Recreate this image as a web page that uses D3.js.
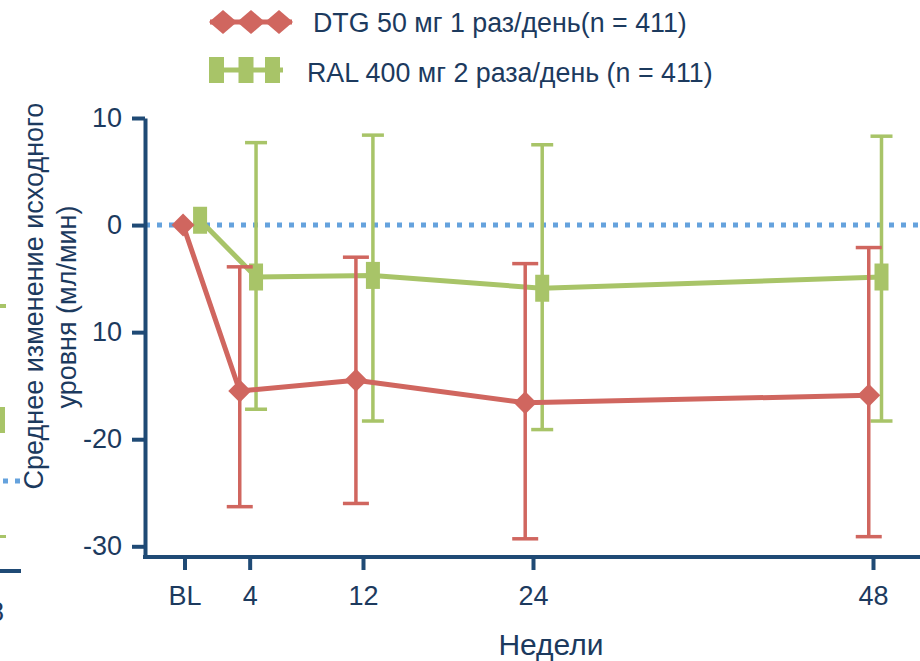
<!DOCTYPE html>
<html>
<head>
<meta charset="utf-8">
<script src="https://cdnjs.cloudflare.com/ajax/libs/d3/7.8.5/d3.min.js"></script>
<style>
  html, body { margin: 0; padding: 0; background: #fff; }
  svg { display: block; font-family: "Liberation Sans", Arial, sans-serif; }
</style>
</head>
<body>
<div id="chart"></div>
<script>
// weeks (BL sits a little left of 0), tick labels
const weekTicks = [-0.6, 4, 12, 24, 48];
const weekLabels = ["BL", "4", "12", "24", "48"];
const yTicks = [10, 0, -10, -20, -30];
const yTickLabels = ["10", "0", "10", "-20", "-30"];

// DTG 50 mg once daily (red), x positions are dodged slightly left
const dtgWeek = [-0.7, 3.3, 11.5, 23.45, 47.7];
const dtgMean = [0, -15.5, -14.5, -16.6, -15.9];
const dtgLow  = [null, -26.3, -26.0, -29.3, -29.1];
const dtgHigh = [null, -3.9, -3.0, -3.6, -2.1];

// RAL 400 mg twice daily (green), dodged right
const ralWeek = [0.5, 4.45, 12.7, 24.65, 48.6];
const ralMean = [0.45, -4.85, -4.7, -5.9, -4.85];
const ralLow  = [null, -17.2, -18.3, -19.1, -18.3];
const ralHigh = [null, 7.7, 8.4, 7.5, 8.3];

const legendLabels = ["DTG 50 мг 1 раз/день(n = 411)", "RAL 400 мг 2 раза/день (n = 411)"];

const config = {
    width: 920,
    height: 661,
    axisX: 145,
    red: "#d0665f",
    green: "#a8c468",
    blue: "#65a2dd",
    axis: "#1f4a75",
    text: "#1c3a5e"
};

const svg = d3.select("#chart").append("svg")
    .attr("width", config.width)
    .attr("height", config.height);

const x = d3.scaleLinear().domain([0, 48]).range([193, 873]);
const y = d3.scaleLinear().domain([-31, 10]).range([557, 118]);

// cropped bits of a neighbouring chart at the left edge
svg.append("rect").attr("x", 0).attr("y", 304).attr("width", 6).attr("height", 4).attr("fill", config.green);
svg.append("rect").attr("x", 0).attr("y", 407).attr("width", 5).attr("height", 26).attr("fill", config.green);
svg.append("line").attr("x1", 3).attr("x2", 22).attr("y1", 481).attr("y2", 481)
    .attr("stroke", config.blue).attr("stroke-width", 5).attr("stroke-dasharray", "5,7");
svg.append("rect").attr("x", 0).attr("y", 535).attr("width", 6).attr("height", 3).attr("fill", config.green);
svg.append("rect").attr("x", 0).attr("y", 569).attr("width", 21).attr("height", 4).attr("fill", config.axis);
svg.append("text").attr("x", -11).attr("y", 621).attr("font-size", 27).attr("fill", config.text).text("8");

// zero reference line
svg.append("line")
    .attr("x1", config.axisX).attr("x2", config.width)
    .attr("y1", y(0)).attr("y2", y(0))
    .attr("stroke", config.blue)
    .attr("stroke-width", 5)
    .attr("stroke-dasharray", "5,7");

// y axis
const yAxis = svg.append("g")
    .attr("transform", `translate(${config.axisX},0)`)
    .call(d3.axisLeft(y).tickValues(yTicks).tickSize(13).tickSizeOuter(0).tickPadding(10)
        .tickFormat((d, i) => yTickLabels[i]));
yAxis.select(".domain").attr("stroke", config.axis).attr("stroke-width", 4);
yAxis.selectAll(".tick line").attr("stroke", config.axis).attr("stroke-width", 4);
yAxis.selectAll(".tick text")
    .attr("font-size", 27)
    .attr("font-family", "Liberation Sans, Arial, sans-serif")
    .attr("fill", config.text);

// x axis
const xAxis = svg.append("g")
    .attr("transform", `translate(0,${y(-31)})`)
    .call(d3.axisBottom(x).tickValues(weekTicks).tickSize(13).tickSizeOuter(0).tickPadding(16)
        .tickFormat((d, i) => weekLabels[i]));
xAxis.select(".domain").remove();
xAxis.append("line")
    .attr("x1", config.axisX - 2).attr("x2", config.width)
    .attr("stroke", config.axis).attr("stroke-width", 4);
xAxis.selectAll(".tick line").attr("stroke", config.axis).attr("stroke-width", 4);
xAxis.selectAll(".tick text")
    .attr("font-size", 27)
    .attr("font-family", "Liberation Sans, Arial, sans-serif")
    .attr("fill", config.text);

svg.append("text")
    .attr("x", 551).attr("y", 655)
    .attr("text-anchor", "middle")
    .attr("font-size", 30)
    .attr("fill", config.text)
    .text("Недели");

// y label, two lines
const yLabel = svg.append("text")
    .attr("transform", "rotate(-90)")
    .attr("text-anchor", "middle")
    .attr("font-size", 27)
    .attr("fill", config.text);
yLabel.append("tspan").attr("x", -296).attr("y", 43).text("Среднее изменение исходного");
yLabel.append("tspan").attr("x", -307).attr("y", 76).text("уровня (мл/мин)");

function series(week, mean, low, high) {
    return week.map((w, i) => ({ w: w, m: mean[i], lo: low[i], hi: high[i] }));
}

const diamond = (r) => `M0,${-r}L${r},0L0,${r}L${-r},0Z`;

function drawSeries(data, color, cap, marker) {
    const g = svg.append("g");
    const bars = data.filter(d => d.lo !== null);

    g.selectAll(".bar").data(bars).enter().append("line")
        .attr("x1", d => x(d.w)).attr("x2", d => x(d.w))
        .attr("y1", d => y(d.hi)).attr("y2", d => y(d.lo))
        .attr("stroke", color).attr("stroke-width", 3.5);
    ["lo", "hi"].forEach(k => {
        g.selectAll(".cap-" + k).data(bars).enter().append("line")
            .attr("x1", d => x(d.w) - cap / 2).attr("x2", d => x(d.w) + cap / 2)
            .attr("y1", d => y(d[k])).attr("y2", d => y(d[k]))
            .attr("stroke", color).attr("stroke-width", 3.5);
    });

    g.append("path")
        .datum(data)
        .attr("fill", "none")
        .attr("stroke", color)
        .attr("stroke-width", 5)
        .attr("stroke-linejoin", "round")
        .attr("d", d3.line().x(d => x(d.w)).y(d => y(d.m)));

    if (marker === "diamond") {
        g.selectAll(".pt").data(data).enter().append("path")
            .attr("transform", d => `translate(${x(d.w)},${y(d.m)})`)
            .attr("d", diamond(11.5))
            .attr("fill", color);
    } else {
        g.selectAll(".pt").data(data).enter().append("rect")
            .attr("x", d => x(d.w) - 7).attr("y", d => y(d.m) - 13.5)
            .attr("width", 14).attr("height", 27)
            .attr("fill", color);
    }
}

drawSeries(series(ralWeek, ralMean, ralLow, ralHigh), config.green, 22, "rect");
drawSeries(series(dtgWeek, dtgMean, dtgLow, dtgHigh), config.red, 26, "diamond");

// legend
const legend = svg.append("g");
const lgRed = legend.append("g").attr("transform", "translate(0,22)");
lgRed.append("line").attr("x1", 210).attr("x2", 292).attr("stroke", config.red).attr("stroke-width", 5);
lgRed.selectAll("path").data([223, 251, 279]).enter().append("path")
    .attr("transform", d => `translate(${d},0)`)
    .attr("d", "M0,-12L14,0L0,12L-14,0Z")
    .attr("fill", config.red);
legend.append("text").attr("x", 313).attr("y", 32)
    .attr("font-size", 26.8).attr("fill", config.text).text(legendLabels[0]);

const lgGreen = legend.append("g").attr("transform", "translate(0,70)");
lgGreen.append("line").attr("x1", 209).attr("x2", 283).attr("stroke", config.green).attr("stroke-width", 5);
lgGreen.selectAll("rect").data([216.5, 246, 272.5]).enter().append("rect")
    .attr("x", d => d - 7.5).attr("y", -13)
    .attr("width", 15).attr("height", 26)
    .attr("fill", config.green);
legend.append("text").attr("x", 307).attr("y", 82)
    .attr("font-size", 26.8).attr("fill", config.text).text(legendLabels[1]);
</script>
</body>
</html>
